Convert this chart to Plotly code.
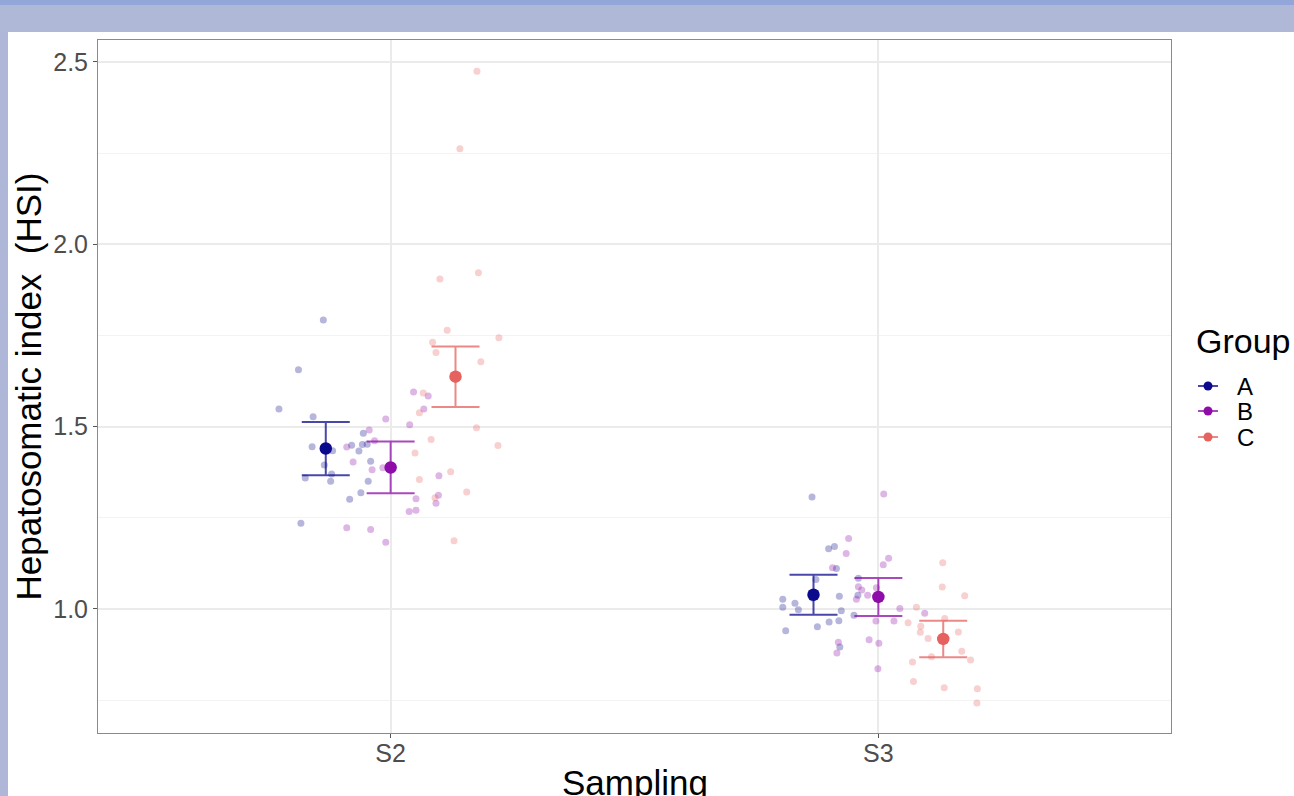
import plotly.graph_objects as go

# ---------------- data ----------------
samplings = ["S2", "S3"]
groups = ["A", "B", "C"]

# individual observations (HSI) and their horizontal jitter (in category units)
s2_A_val = [1.792, 1.656, 1.548, 1.527, 1.482, 1.445, 1.434, 1.449, 1.451, 1.452,
            1.433, 1.395, 1.405, 1.370, 1.359, 1.350, 1.350, 1.319, 1.301, 1.235]
s2_A_jit = [-0.005, -0.056, -0.096, -0.026, 0.077, -0.028, 0.014, 0.053, 0.075, 0.085,
            0.068, -0.003, 0.092, 0.012, -0.042, 0.010, 0.087, 0.072, 0.049, -0.051]

s2_B_val = [1.521, 1.491, 1.461, 1.444, 1.403, 1.382, 1.387, 1.505, 1.595, 1.584,
            1.548, 1.365, 1.302, 1.312, 1.290, 1.267, 1.271, 1.223, 1.218, 1.183]
s2_B_jit = [-0.010, -0.044, -0.033, -0.090, -0.077, -0.038, -0.016, 0.039, 0.047, 0.077,
            0.068, 0.099, 0.052, 0.098, 0.093, 0.038, 0.052, -0.090, -0.041, -0.010]

s2_C_val = [2.474, 2.262, 1.905, 1.922, 1.764, 1.744, 1.731, 1.703, 1.678, 1.592,
            1.538, 1.497, 1.465, 1.448, 1.428, 1.376, 1.355, 1.321, 1.305, 1.187]
s2_C_jit = [0.044, 0.009, -0.032, 0.047, -0.017, 0.089, -0.047, -0.040, 0.052, -0.066,
            -0.074, 0.043, -0.050, 0.087, -0.083, -0.010, -0.074, 0.023, -0.042, -0.003]

s3_A_val = [1.307, 1.165, 1.171, 1.111, 1.081, 1.084, 1.027, 1.016, 1.005, 0.998,
            1.035, 1.038, 0.995, 0.983, 0.968, 0.964, 0.951, 0.940, 0.896, 1.030]
s3_A_jit = [-0.003, 0.031, 0.043, 0.047, 0.005, 0.092, -0.063, -0.038, -0.063, -0.031,
            0.053, 0.091, 0.057, 0.083, 0.052, 0.032, 0.008, -0.057, 0.054, -0.002]

s3_B_val = [1.315, 1.193, 1.152, 1.139, 1.121, 1.113, 1.061, 1.052, 1.038, 1.027,
            1.058, 1.001, 0.967, 0.967, 0.916, 0.906, 0.909, 0.879, 0.836, 0.988]
s3_B_jit = [0.011, -0.061, -0.066, 0.021, 0.010, -0.094, -0.041, -0.034, -0.022, -0.045,
            -0.004, 0.044, 0.032, -0.005, -0.019, 0.001, -0.082, -0.085, -0.001, 0.095]

s3_C_val = [1.127, 1.060, 1.036, 1.005, 0.962, 0.953, 0.936, 0.974, 0.919, 0.937,
            0.869, 0.884, 0.860, 0.855, 0.801, 0.784, 0.781, 0.742, 0.918]
s3_C_jit = [-0.001, -0.002, 0.044, -0.055, -0.072, -0.046, -0.047, 0.003, -0.031, 0.031,
            -0.024, 0.038, 0.056, -0.063, -0.061, 0.002, 0.070, 0.069, 0.000]

# group means and standard errors per sampling (S2, S3)
mean_A = [1.440, 1.039]
se_A = [0.073, 0.055]
mean_B = [1.388, 1.033]
se_B = [0.071, 0.052]
mean_C = [1.637, 0.918]
se_C = [0.083, 0.050]

legend_title = "Group"
x_title = "Sampling"
y_title = "Hepatosomatic index\u00a0 (HSI)"

# ---------------- styling ----------------
colors = {"A": "#0C0A8C", "B": "#8E0CA8", "C": "#E5625F"}
bar_colors = {"A": "rgba(12,10,140,0.75)", "B": "rgba(142,12,168,0.75)", "C": "rgba(229,98,95,0.75)"}
dodge = {"A": -0.133, "B": 0.0, "C": 0.133}
FONT = "Liberation Sans, Arial, Helvetica, sans-serif"

obs = {
    "A": [(s2_A_val, s2_A_jit), (s3_A_val, s3_A_jit)],
    "B": [(s2_B_val, s2_B_jit), (s3_B_val, s3_B_jit)],
    "C": [(s2_C_val, s2_C_jit), (s3_C_val, s3_C_jit)],
}
means = {"A": (mean_A, se_A), "B": (mean_B, se_B), "C": (mean_C, se_C)}
base_x = {s: i + 1 for i, s in enumerate(samplings)}

fig = go.Figure()

# jittered raw observations
for g in groups:
    xs, ys = [], []
    for s, (vals, jit) in zip(samplings, obs[g]):
        xs += [base_x[s] + dodge[g] + j for j in jit]
        ys += vals
    fig.add_trace(go.Scatter(
        x=xs, y=ys, mode="markers", showlegend=False, hoverinfo="y", name=g,
        marker=dict(size=7, color=colors[g], opacity=0.3, line=dict(width=0)),
    ))

# means with standard-error bars
for g in groups:
    m, se = means[g]
    fig.add_trace(go.Scatter(
        x=[base_x[s] + dodge[g] for s in samplings], y=m, mode="markers",
        showlegend=False, name=g,
        marker=dict(size=12.5, color=colors[g], line=dict(width=0)),
        error_y=dict(type="data", array=se, visible=True, color=bar_colors[g],
                     thickness=2, width=24),
    ))

W, H = 1294, 796
L, R, T, B = 98, 123, 40, 63
pw, ph = W - L - R, H - T - B


def px_x(p):
    return (p - L) / pw


def px_y(p):
    return (H - B - p) / ph


shapes = [
    # page frame (blue-grey band on top and left)
    dict(type="rect", xref="paper", yref="paper", x0=px_x(0), x1=px_x(W), y0=px_y(32), y1=px_y(0),
         fillcolor="#B0B8D8", line=dict(width=0), layer="below"),
    dict(type="rect", xref="paper", yref="paper", x0=px_x(0), x1=px_x(W), y0=px_y(5), y1=px_y(0),
         fillcolor="#93A6DA", line=dict(width=0), layer="below"),
    dict(type="rect", xref="paper", yref="paper", x0=px_x(0), x1=px_x(8), y0=px_y(H), y1=px_y(32),
         fillcolor="#AFB7D8", line=dict(width=0), layer="below"),
]

annotations = [
    # x-axis title (sits partly below the visible page, as in the reference)
    dict(text=x_title, xref="paper", yref="paper", x=0.5, y=px_y(761),
         xanchor="center", yanchor="top", showarrow=False,
         font=dict(size=35, color="#000000", family=FONT)),
    # legend title
    dict(text=legend_title, xref="paper", yref="paper", x=px_x(1194), y=px_y(341),
         xanchor="left", yanchor="middle", showarrow=False,
         font=dict(size=34, color="#000000", family=FONT)),
]
# legend keys (line + point) with text labels
key_y = {"A": 386, "B": 411, "C": 437}
for g in groups:
    yy = px_y(key_y[g])
    shapes.append(dict(type="line", xref="paper", yref="paper", x0=px_x(1198), x1=px_x(1218),
                       y0=yy, y1=yy, line=dict(color=bar_colors[g], width=2)))
    shapes.append(dict(type="circle", xref="paper", yref="paper", xsizemode="pixel",
                       ysizemode="pixel", xanchor=px_x(1208), yanchor=yy,
                       x0=-4.5, x1=4.5, y0=-4.5, y1=4.5,
                       fillcolor=colors[g], line=dict(width=0)))
    annotations.append(dict(text=g, xref="paper", yref="paper", x=px_x(1235), y=yy,
                            xanchor="left", yanchor="middle", showarrow=False,
                            font=dict(size=24, color="#000000", family=FONT)))

fig.update_layout(
    width=W, height=H,
    margin=dict(l=L, r=R, t=T, b=B, autoexpand=False),
    paper_bgcolor="white", plot_bgcolor="white",
    font=dict(family=FONT, color="#000000"),
    shapes=shapes,
    annotations=annotations,
    showlegend=False,
    xaxis=dict(
        range=[0.4, 2.6], tickmode="array", tickvals=[1, 2], ticktext=samplings,
        showgrid=True, gridcolor="#EBEBEB", gridwidth=1.5, zeroline=False,
        showline=True, mirror=True, linecolor="#8A8A8A", linewidth=1,
        ticks="outside", ticklen=4, tickcolor="#555555", tickwidth=1,
        ticklabelstandoff=-6,
        tickfont=dict(size=25, color="#4D4D4D", family=FONT),
    ),
    yaxis=dict(
        range=[0.66, 2.56], tickmode="array", tickvals=[1.0, 1.5, 2.0, 2.5],
        ticktext=["1.0", "1.5", "2.0", "2.5"],
        showgrid=True, gridcolor="#EBEBEB", gridwidth=1.5, zeroline=False,
        minor=dict(tickmode="array", tickvals=[0.75, 1.25, 1.75, 2.25], showgrid=True,
                   gridcolor="#F3F3F3", gridwidth=1, ticks=""),
        showline=True, mirror=True, linecolor="#8A8A8A", linewidth=1,
        ticks="outside", ticklen=4, tickcolor="#555555", tickwidth=1,
        tickfont=dict(size=25, color="#4D4D4D", family=FONT),
        title=dict(text=y_title, font=dict(size=35, color="#000000", family=FONT), standoff=0),
    ),
)

fig.write_html(
    "out.html",
    config={"displayModeBar": False},
    post_script="document.body.style.margin='0';document.body.style.overflow='hidden';",
)
